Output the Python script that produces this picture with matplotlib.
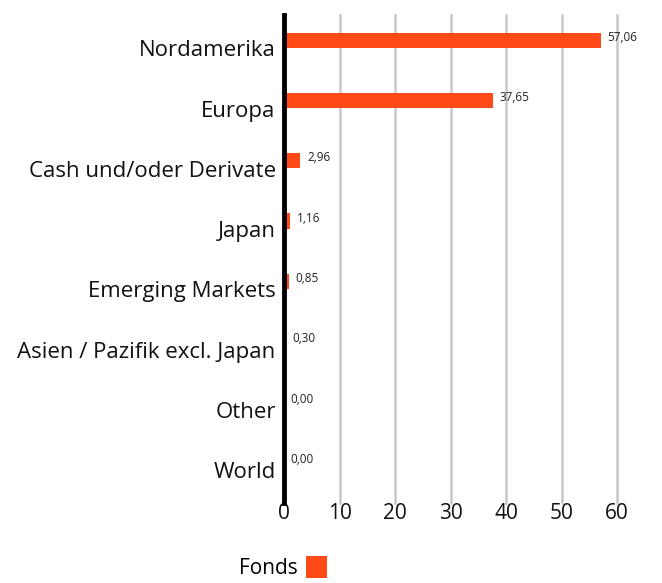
import numpy as np
import matplotlib.pyplot as plt

plt.rcParams['font.family'] = ['Open Sans', 'DejaVu Sans']

regions = ["Nordamerika", "Europa", "Cash und/oder Derivate", "Japan",
           "Emerging Markets", "Asien / Pazifik excl. Japan", "Other", "World"]
fonds = [57.06, 37.65, 2.96, 1.16, 0.85, 0.30, 0.00, 0.00]
xticks = [0, 10, 20, 30, 40, 50, 60]

color = "#ff4a17"

fig = plt.figure(figsize=(6.62, 5.83), dpi=100)
ax = fig.add_axes([0.429, 0.147, 0.545, 0.827])

y = np.arange(len(regions))
bars = ax.barh(y - 0.085, fonds, height=0.25, color=color, label="Fonds", zorder=3)

for yi, v in zip(y, fonds):
    ax.text(v + 1.2, yi - 0.13, f"{v:.2f}".replace(".", ","), fontsize=8.5,
            va="center", ha="left", color="#222222")

ax.set_ylim(len(regions) - 0.5, -0.5)
ax.set_xlim(0, 65)
ax.set_yticks(y + 0.05)
ax.set_yticklabels(regions, fontsize=16, color="#111111")
ax.set_xticks(xticks)
ax.set_xticklabels([str(t) for t in xticks], fontsize=15, color="#111111")
ax.tick_params(axis="y", length=0, pad=6)
ax.tick_params(axis="x", length=0, pad=4)

for t in xticks[1:]:
    ax.axvline(t, color="#c8c8c8", lw=1.8, zorder=1, ymin=-0.012, clip_on=False)
ax.axvline(0, color="black", lw=3.5, zorder=4, ymin=-0.012, clip_on=False)

for s in ax.spines.values():
    s.set_visible(False)

fig.legend(handles=[bars], labels=["Fonds"], loc="center", bbox_to_anchor=(0.427, 0.027),
           frameon=False, markerfirst=False, fontsize=15, handlelength=1.0,
           handleheight=1.3, handletextpad=0.4)

plt.savefig("out.png", dpi=100)
